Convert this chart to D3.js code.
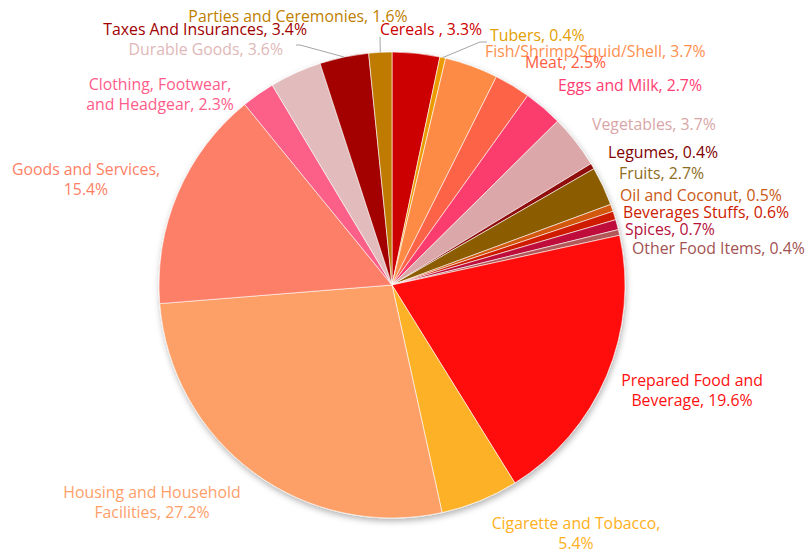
<!DOCTYPE html>
<html>
<head>
<meta charset="utf-8">
<script src="https://cdn.jsdelivr.net/npm/d3@7"></script>
<style>
  body { margin: 0; background: #fff; }
  svg text { font-family: "Open Sans", sans-serif; font-size: 16.5px; }
</style>
</head>
<body>
<svg id="chart"></svg>
<script>
// categories and shares (%), clockwise from 12 o'clock
const categories = [
    'Cereals ', 'Tubers', 'Fish/Shrimp/Squid/Shell', 'Meat', 'Eggs and Milk',
    'Vegetables', 'Legumes', 'Fruits', 'Oil and Coconut', 'Beverages Stuffs',
    'Spices', 'Other Food Items', 'Prepared Food and Beverage', 'Cigarette and Tobacco',
    'Housing and Household Facilities', 'Goods and Services', 'Clothing, Footwear, and Headgear',
    'Durable Goods', 'Taxes And Insurances', 'Parties and Ceremonies'
];
const shares = [3.3, 0.4, 3.7, 2.5, 2.7, 3.7, 0.4, 2.7, 0.5, 0.6, 0.7, 0.4, 19.6, 5.4, 27.2, 15.4, 2.3, 3.6, 3.4, 1.6];

// how the label text is broken into lines
const labelLines = [
    ['Cereals , 3.3%'], ['Tubers, 0.4%'], ['Fish/Shrimp/Squid/Shell, 3.7%'], ['Meat, 2.5%'],
    ['Eggs and Milk, 2.7%'], ['Vegetables, 3.7%'], ['Legumes, 0.4%'], ['Fruits, 2.7%'],
    ['Oil and Coconut, 0.5%'], ['Beverages Stuffs, 0.6%'], ['Spices, 0.7%'], ['Other Food Items, 0.4%'],
    ['Prepared Food and', 'Beverage, 19.6%'], ['Cigarette and Tobacco,', '5.4%'],
    ['Housing and Household', 'Facilities, 27.2%'], ['Goods and Services,', '15.4%'],
    ['Clothing, Footwear,', 'and Headgear, 2.3%'], ['Durable Goods, 3.6%'],
    ['Taxes And Insurances, 3.4%'], ['Parties and Ceremonies, 1.6%']
];

const colors = [
    '#cc0000', '#eb9b00', '#fd8b45', '#fc6446', '#fb3d6e',
    '#dba7a8', '#8f0707', '#8b5c00', '#d2580e', '#cf1f00',
    '#bf0a3b', '#b35858', '#ff0d0d', '#fdb125',
    '#fda068', '#fd7f67', '#fc5f88',
    '#e2bcbc', '#a30000', '#bf7a00'
];
const textColors = [
    '#cc0000', '#e3a000', '#ff8f4f', '#ff5c40', '#ff3d72',
    '#d9a6a8', '#800000', '#8e6c22', '#c95914', '#cc2000',
    '#b5123c', '#a35252', '#ff1010', '#ffb020',
    '#ffa06a', '#ff7f66', '#ff5c8a',
    '#e0b8b8', '#a00000', '#c08000'
];

// label placement: [x, y of first line centre, anchor]
const labelLayout = [
    [380, 29, 'start'], [490, 35, 'start'], [485, 51, 'start'], [525, 62, 'start'],
    [558, 85, 'start'], [592, 124, 'start'], [608, 152, 'start'], [619, 173, 'start'],
    [620, 195, 'start'], [623, 212, 'start'], [625, 229, 'start'], [632, 248, 'start'],
    [692, 380, 'middle'], [576, 523, 'middle'], [152, 492, 'middle'], [86, 169, 'middle'],
    [160, 84, 'middle'], [283, 49, 'end'], [307, 29, 'end'], [298, 16, 'middle']
];
// leader lines: slice index -> elbow points after leaving the slice
const leaders = [
    { i: 1, pts: [[480, 42], [487, 42]] },
    { i: 18, pts: [[300, 45], [296, 45]] },
    { i: 19, pts: [[380, 37]] }
];

const W = 805, H = 552;
const cx = 392, cy = 285, R = 233;
const sx = 0.96; // horizontal squeeze of text

const svg = d3.select('#chart').attr('width', W).attr('height', H);

const defs = svg.append('defs');
const f = defs.append('filter').attr('id', 'shadow')
    .attr('x', '-10%').attr('y', '-10%').attr('width', '120%').attr('height', '125%');
f.append('feDropShadow').attr('dx', 1).attr('dy', 3).attr('stdDeviation', 3)
    .attr('flood-color', '#000').attr('flood-opacity', 0.3);

const pie = d3.pie().sort(null).value(d => d)(shares);
const arc = d3.arc().innerRadius(0).outerRadius(R);

const g = svg.append('g').attr('transform', `translate(${cx},${cy})`);
const slices = g.append('g').attr('filter', 'url(#shadow)');
slices.selectAll('path')
    .data(pie)
    .enter()
    .append('path')
    .attr('d', arc)
    .attr('fill', (d, i) => colors[i])
    .attr('stroke', '#fff')
    .attr('stroke-width', 0.6);

// leader lines
const edge = d => {
    const a = (d.startAngle + d.endAngle) / 2;
    return [cx + R * Math.sin(a), cy - R * Math.cos(a)];
};
leaders.forEach(l => {
    const p = [edge(pie[l.i])].concat(l.pts);
    svg.append('path')
        .attr('d', d3.line()(p))
        .attr('fill', 'none')
        .attr('stroke', '#a6a6a6')
        .attr('stroke-width', 1);
});

// labels
const lab = svg.append('g');
labelLines.forEach((lines, i) => {
    const [x, y, anchor] = labelLayout[i];
    const t = lab.append('text')
        .attr('transform', `translate(${x},${y}) scale(${sx},1)`)
        .attr('text-anchor', anchor)
        .attr('fill', textColors[i]);
    lines.forEach((s, k) => {
        t.append('tspan')
            .attr('x', 0)
            .attr('y', k * 20)
            .attr('dy', '0.35em')
            .text(s);
    });
});
</script>
</body>
</html>
